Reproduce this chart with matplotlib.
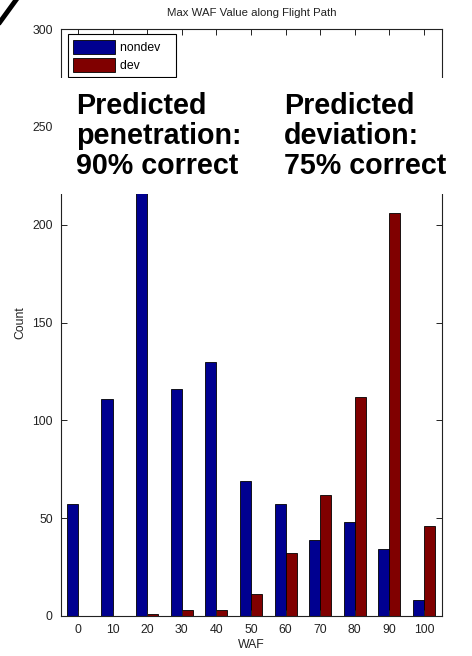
import numpy as np
import matplotlib.pyplot as plt
from matplotlib.patches import Rectangle
from matplotlib.lines import Line2D

plt.rcParams['font.family'] = ['Liberation Sans', 'DejaVu Sans']

# histogram of max WAF per flight, split by outcome
waf_bins = [0, 10, 20, 30, 40, 50, 60, 70, 80, 90, 100]
nondev = [57, 111, 230, 116, 130, 69, 57, 39, 48, 34, 8]
dev = [0, 0, 1, 3, 3, 11, 32, 62, 112, 206, 46]

note_pen = "Predicted\npenetration:\n90% correct"
note_dev = "Predicted\ndeviation:\n75% correct"

W, H = 472, 656
fig = plt.figure(figsize=(W / 100, H / 100), dpi=100)
ax = fig.add_axes([61 / W, 1 - 616 / H, 381 / W, 587 / H])

x = np.array(waf_bins, dtype=float)
bw = 3.2
ax.bar(x - bw / 2, nondev, width=bw, color='#000090', edgecolor='black',
       linewidth=0.6, label='nondev')
ax.bar(x + bw / 2, dev, width=bw, color='#800000', edgecolor='black',
       linewidth=0.6, label='dev')

ax.set_xlim(-4.9, 105.2)
ax.set_ylim(0, 300)
ax.set_xticks(waf_bins)
ax.set_yticks(np.arange(0, 301, 50))
ax.tick_params(direction='in', top=True, right=True, length=4.5, width=0.7,
               labelsize=8.8, colors='#222222', pad=6)
for s in ax.spines.values():
    s.set_linewidth(0.8)
    s.set_color('#222222')

ax.set_title('Max WAF Value along Flight Path', fontsize=8.2, pad=9, color='#222222')
ax.set_xlabel('WAF', fontsize=8.8, labelpad=2, color='#222222')
ax.set_ylabel('Count', fontsize=8.8, labelpad=4, color='#222222')

leg = ax.legend(loc='upper left', bbox_to_anchor=(0.018, 0.991), borderaxespad=0,
                fontsize=8.8, fancybox=False, edgecolor='black', framealpha=1,
                handlelength=3.4, handleheight=1.35, handletextpad=0.4,
                borderpad=0.45, labelspacing=0.35)
leg.get_frame().set_linewidth(0.8)
for t in leg.get_texts():
    t.set_text(t.get_text() + '   ')

# white panel with the prediction notes on top of the plot
fig.patches.append(Rectangle((56 / W, 1 - 194 / H), 1 - 56 / W, 116 / H,
                             transform=fig.transFigure, facecolor='white',
                             edgecolor='none', zorder=5))
fig.text(76 / W, 1 - 92 / H, note_pen, fontsize=20.6, fontweight='bold',
         va='top', ha='left', linespacing=1.1, zorder=6)
fig.text(284 / W, 1 - 92 / H, note_dev, fontsize=20.6, fontweight='bold',
         va='top', ha='left', linespacing=1.1, zorder=6)

# pen stroke in the corner
fig.lines.append(Line2D([0, 16 / W], [1 - 22 / H, 1], transform=fig.transFigure,
                        color='black', linewidth=3.5, zorder=6))

fig.savefig('out.png', dpi=100)
